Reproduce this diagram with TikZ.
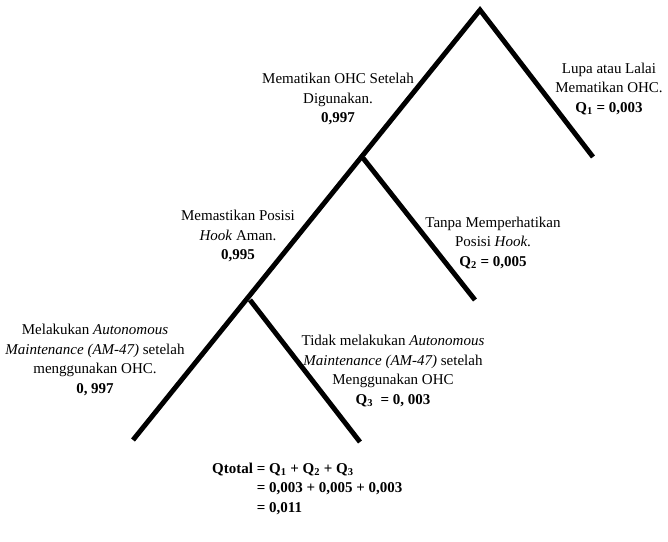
\documentclass[tikz,border=0pt]{standalone}
\usepackage{fontspec}
\setmainfont{Liberation Serif}
\usetikzlibrary{calc}

\tikzset{
    branch/.style={line width=4.2pt},
    lbl/.style={align=center, inner sep=0pt,
                font=\fontsize{12.8}{16.6}\selectfont},
}

\begin{document}
\begin{tikzpicture}
    \useasboundingbox (0cm, 0cm) rectangle (20.04cm, -16.26cm);

    % tree points
    \coordinate (top) at (14.40cm, -0.30cm);
    \coordinate (r1)  at (17.79cm, -4.71cm);
    \coordinate (j1)  at (10.89cm, -4.74cm);
    \coordinate (r2)  at (14.25cm, -9.00cm);
    \coordinate (j2)  at (7.50cm, -9.00cm);
    \coordinate (r3)  at (10.80cm, -13.26cm);
    \coordinate (l3)  at (3.99cm, -13.20cm);

    \draw[branch] (r1) -- (top) -- (l3);
    \draw[branch] (j1) -- (r2);
    \draw[branch] (j2) -- (r3);

    % labels
    \node[lbl] (succ1) at (10.14cm, -2.97cm)
        {Mematikan OHC Setelah\\ Digunakan.\\ \textbf{0,997}};
    \node[lbl] (fail1) at (18.27cm, -2.67cm)
        {Lupa atau Lalai\\ Mematikan OHC.\\ \textbf{Q\textsubscript{1} = 0,003}};
    \node[lbl] (succ2) at (7.14cm, -7.08cm)
        {Memastikan Posisi\\ \textit{Hook} Aman.\\ \textbf{0,995}};
    \node[lbl] (fail2) at (14.79cm, -7.29cm)
        {Tanpa Memperhatikan\\ Posisi \textit{Hook}.\\ \textbf{Q\textsubscript{2} = 0,005}};
    \node[lbl] (succ3) at (2.85cm, -10.80cm)
        {Melakukan \textit{Autonomous}\\ \textit{Maintenance (AM-47)} setelah\\
         menggunakan OHC.\\ \textbf{0, 997}};
    \node[lbl] (fail3) at (11.79cm, -11.13cm)
        {Tidak melakukan \textit{Autonomous}\\ \textit{Maintenance (AM-47)} setelah\\
         Menggunakan OHC\\ \textbf{Q\textsubscript{3} \ = 0, 003}};

    \node[lbl, anchor=west] (total) at (6.36cm, -14.67cm)
        {\bfseries\begin{tabular}{@{}r@{ }l@{}}
            Qtotal & = Q\textsubscript{1} + Q\textsubscript{2} + Q\textsubscript{3}\\
                   & = 0,003 + 0,005 + 0,003\\
                   & = 0,011
         \end{tabular}};
\end{tikzpicture}
\end{document}
